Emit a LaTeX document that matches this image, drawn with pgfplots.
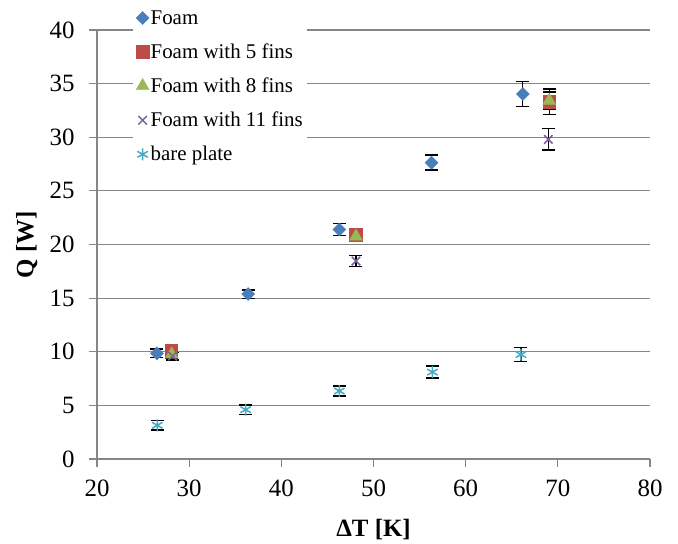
\documentclass[border=0pt]{standalone}
\usepackage{pgfplots}
\pgfplotsset{compat=1.18}
\usepackage{fontspec}
\setmainfont{LiberationSerif}[Extension=.ttf, UprightFont=*-Regular, BoldFont=*-Bold, ItalicFont=*-Italic, BoldItalicFont=*-BoldItalic]
\definecolor{cFoam}{RGB}{74,126,187}
\definecolor{cFive}{RGB}{190,75,72}
\definecolor{cEight}{RGB}{152,185,84}
\definecolor{cEleven}{RGB}{125,96,160}
\definecolor{cBare}{RGB}{70,170,197}
\definecolor{cGrid}{RGB}{134,134,134}
\begin{document}
\begin{tikzpicture}
\begin{axis}[
  scale only axis, width=553bp, height=429bp,
  xmin=20, xmax=80, ymin=0, ymax=40,
  xtick={20,30,40,50,60,70,80}, ytick={0,5,10,15,20,25,30,35,40},
  axis x line=bottom, axis y line=left,
  axis line style={-, cGrid, line width=1.2bp},
  ymajorgrids, grid style={cGrid, line width=1.2bp},
  tick align=outside, major tick length=8bp,
  tick style={cGrid, line width=1.2bp},
  ticklabel style={font=\fontsize{25}{30}\selectfont},
  xticklabel style={yshift=-9bp},
  yticklabel style={xshift=-11bp},
  /pgf/number format/assume math mode=true,
  xlabel={\textbf{ΔT [K]}}, ylabel={\textbf{Q [W]}},
  xlabel style={font=\fontsize{25}{30}\selectfont, at={(axis description cs:0.5,-0.165)}, anchor=center},
  ylabel style={font=\fontsize{25}{30}\selectfont, at={(axis description cs:-0.127,0.5)}, anchor=center},
  legend style={at={(axis description cs:0.065,1.053)}, anchor=north west, draw=none, fill=white,
    font=\fontsize{21}{25}\selectfont, row sep=16bp, nodes={inner xsep=1.5bp, inner ysep=1bp}},
  legend cell align=left,
  legend image code/.code={\draw[mark repeat=2,mark phase=2,#1] plot coordinates {(-8bp,0bp)(0bp,0bp)(8bp,0bp)};},
  error bars/y dir=both, error bars/y explicit,
  error bars/error bar style={black, line width=1.3bp},
  error bars/error mark options={black, line width=1.5bp, mark size=6.5bp, rotate=90},
]
\addplot[only marks, mark=square*, mark size=4.6bp, mark options={rotate=45, draw=cFoam, fill=cFoam}]
  coordinates {(26.5,9.85) +- (0,0.4) (36.4,15.38) +- (0,0.4) (46.3,21.4) +- (0,0.55) (56.3,27.63) +- (0,0.7) (66.2,34.03) +- (0,1.17)};
\addlegendentry{Foam}
\addplot[only marks, mark=square*, mark size=6.3bp, mark options={draw=cFive, fill=cFive}]
  coordinates {(28.06,10.1) +- (0,0.35) (48.1,20.9) +- (0,0.45) (69.07,33.3) +- (0,1.2)};
\addlegendentry{Foam with 5 fins}
\addplot[only marks, mark=triangle*, mark size=7.5bp, mark options={draw=cEight, fill=cEight}]
  coordinates {(28.1,9.75) +- (0,0.35) (48.1,20.75) +- (0,0.45) (69.07,33.4) +- (0,0.8)};
\addlegendentry{Foam with 8 fins}
\addplot[only marks, mark=x, mark size=6bp, mark options={draw=cEleven, line width=1.5bp}]
  coordinates {(28.2,9.6) +- (0,0.35) (48.1,18.46) +- (0,0.5) (68.97,29.8) +- (0,1.0)};
\addlegendentry{Foam with 11 fins}
\addplot[only marks, mark=asterisk, mark size=6bp, mark options={draw=cBare, line width=1.5bp}]
  coordinates {(26.54,3.14) +- (0,0.45) (36.13,4.6) +- (0,0.45) (46.3,6.34) +- (0,0.45) (56.4,8.1) +- (0,0.55) (66.0,9.74) +- (0,0.65)};
\addlegendentry{bare plate}
\end{axis}
\path ([shift={(-97bp,-85bp)}]current axis.south west) rectangle ([shift={(28bp,30bp)}]current axis.north east);
\end{tikzpicture}
\end{document}
